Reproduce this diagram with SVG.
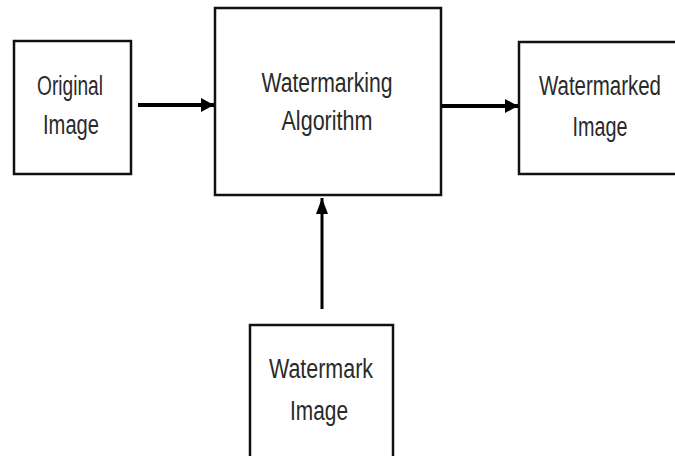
<svg xmlns="http://www.w3.org/2000/svg" width="675" height="456" viewBox="0 0 675 456">
<style>
.box{fill:#fff;stroke:#111;stroke-width:2.5}
.lbl{font-family:"Liberation Sans",Arial,sans-serif;font-size:27px;fill:#2a2a2a;text-anchor:middle}
.con{stroke:#000;fill:none}
</style>
<defs>
<marker id="ah" markerUnits="userSpaceOnUse" markerWidth="14" markerHeight="16" refX="13" refY="7" orient="auto">
<path d="M0,0 L13,7 L0,14 Z" fill="#000"/>
</marker>
<marker id="ahs" markerUnits="userSpaceOnUse" markerWidth="14" markerHeight="14" refX="16" refY="6" orient="auto">
<path d="M0,0 L16,6 L0,12 Z" fill="#000"/>
</marker>
</defs>
<rect width="675" height="456" fill="#fff"/>
<g id="original">
<rect class="box" x="14" y="41" width="117" height="133"/>
<text class="lbl" x="70" y="95" textLength="66" lengthAdjust="spacingAndGlyphs">Original</text>
<text class="lbl" x="71" y="134" textLength="56" lengthAdjust="spacingAndGlyphs">Image</text>
</g>
<g id="algorithm">
<rect class="box" x="215" y="8" width="226" height="187"/>
<text class="lbl" x="327" y="92" textLength="131" lengthAdjust="spacingAndGlyphs">Watermarking</text>
<text class="lbl" x="327" y="130" textLength="91" lengthAdjust="spacingAndGlyphs">Algorithm</text>
</g>
<g id="watermarked">
<rect class="box" x="519" y="42" width="180" height="132"/>
<text class="lbl" x="600" y="95" textLength="122" lengthAdjust="spacingAndGlyphs">Watermarked</text>
<text class="lbl" x="600" y="136" textLength="55" lengthAdjust="spacingAndGlyphs">Image</text>
</g>
<g id="watermark">
<rect class="box" x="250" y="325" width="143" height="160"/>
<text class="lbl" x="321" y="378" textLength="104" lengthAdjust="spacingAndGlyphs">Watermark</text>
<text class="lbl" x="319" y="420" textLength="58" lengthAdjust="spacingAndGlyphs">Image</text>
</g>
<g id="connectors">
<line class="con" x1="138" y1="105" x2="214" y2="105" stroke-width="4" marker-end="url(#ah)"/>
<line class="con" x1="442" y1="106" x2="518" y2="106" stroke-width="4" marker-end="url(#ah)"/>
<line class="con" x1="322" y1="309" x2="322" y2="198" stroke-width="3" marker-end="url(#ahs)"/>
</g>
</svg>
